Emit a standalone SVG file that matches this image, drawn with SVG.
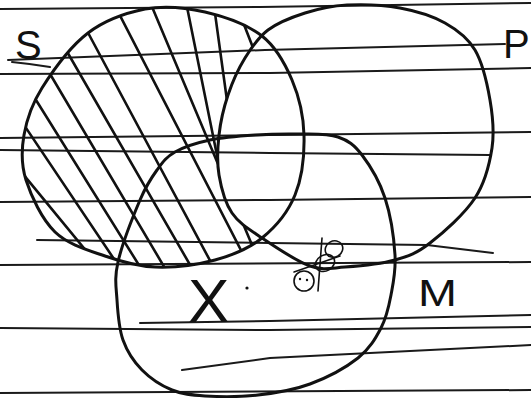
<svg xmlns="http://www.w3.org/2000/svg" xmlns:xlink="http://www.w3.org/1999/xlink" width="531" height="398" viewBox="0 0 531 398">
<style>
.rule{fill:none;stroke:#1a1a1a;stroke-width:2;stroke-linecap:round;stroke-linejoin:round}
.set{fill:none;stroke:#111;stroke-width:3;stroke-linejoin:round}
.hatch{fill:none;stroke:#111;stroke-width:2.6;stroke-linecap:round}
.lbl{font-family:"Liberation Sans","DejaVu Sans",sans-serif;fill:#111}
.scr{fill:none;stroke:#111;stroke-width:1.6;stroke-linecap:round}
</style>
<defs>
<path id="pS" d="M145,9 C164.5,5.5 185.5,7.5 205,12 C224.5,16.5 247.5,24.7 262,36 C276.5,47.3 285,63.5 292,80 C299,96.5 303.5,115.8 304,135 C304.5,154.2 302,177.8 295,195 C288,212.2 275.3,227.2 262,238 C248.7,248.8 232.8,255.2 215,260 C197.2,264.8 173.3,267.7 155,267 C136.7,266.3 121.7,261.8 105,256 C88.3,250.2 68.2,244.7 55,232 C41.8,219.3 31.2,196.2 26,180 C20.8,163.8 21.3,150.3 24,135 C26.7,119.7 31.3,105 42,88 C52.7,71 70.8,46.2 88,33 C105.2,19.8 127.8,12.5 145,9 Z"/>
<path id="pP" d="M347,5 C362.8,4.2 383.7,5 400,8 C416.3,11 432.5,16 445,23 C457.5,30 467.5,37.2 475,50 C482.5,62.8 487.2,83.7 490,100 C492.8,116.3 494.5,131.7 492,148 C489.5,164.3 485.3,182.2 475,198 C464.7,213.8 443.3,232.7 430,243 C416.7,253.3 409.2,256 395,260 C380.8,264 359.2,266 345,267 C330.8,268 323.8,270.8 310,266 C296.2,261.2 275,246.8 262,238 C249,229.2 239.2,223.5 232,213 C224.8,202.5 221.2,188 219,175 C216.8,162 217.5,148.3 219,135 C220.5,121.7 223.7,107.8 228,95 C232.3,82.2 238.3,68.8 245,58 C251.7,47.2 258,37.5 268,30 C278,22.5 291.8,17.2 305,13 C318.2,8.8 331.2,5.8 347,5 Z"/>
<path id="pM" d="M300,134 C313.8,134.3 327.7,133.5 338,137 C348.3,140.5 354.2,144.8 362,155 C369.8,165.2 379.5,181.3 385,198 C390.5,214.7 394,238.8 395,255 C396,271.2 393.3,282.8 391,295 C388.7,307.2 386.5,317.5 381,328 C375.5,338.5 369.8,348.7 358,358 C346.2,367.3 326.7,377.8 310,384 C293.3,390.2 275.5,393 258,395 C240.5,397 219.3,396.8 205,396 C190.7,395.2 182.5,394.3 172,390 C161.5,385.7 150.2,378.3 142,370 C133.8,361.7 127.2,351.7 123,340 C118.8,328.3 117.8,313 117,300 C116.2,287 114.2,278.7 118,262 C121.8,245.3 133.5,215.3 140,200 C146.5,184.7 151.2,178 157,170 C162.8,162 166.2,157 175,152 C183.8,147 196.7,142.8 210,140 C223.3,137.2 240,136 255,135 C270,134 286.2,133.7 300,134 Z"/>
<clipPath id="clipS"><use href="#pS" xlink:href="#pS"/></clipPath>
<mask id="notP" maskUnits="userSpaceOnUse" x="0" y="0" width="531" height="398">
<rect x="0" y="0" width="531" height="398" fill="#fff"/>
<use href="#pP" xlink:href="#pP" fill="#000"/>
</mask>
</defs>
<rect x="0" y="0" width="531" height="398" fill="#fff"/>
<g id="paper-lines">
<polyline class="rule" points="0,9 260,7 531,3"/>
<polyline class="rule" points="8,60 265,50 505,44"/>
<path class="rule" stroke-width="1.4" d="M12,62 Q32,64 50,67"/>
<polyline class="rule" points="0,74 270,73 531,68"/>
<polyline class="rule" points="0,138 270,135 531,132"/>
<polyline class="rule" points="0,150 270,153 490,155"/>
<polyline class="rule" points="0,202 270,200 531,197"/>
<polyline class="rule" points="37,240 270,243 427,245 493,253"/>
<polyline class="rule" points="0,265 531,262"/>
<polyline class="rule" points="140,323 270,321 531,315"/>
<polyline class="rule" points="0,328 270,330 531,327"/>
<polyline class="rule" points="182,370 270,358 531,345"/>
<polyline class="rule" points="0,393 531,390"/>
</g>
<g id="hatching" clip-path="url(#clipS)" mask="url(#notP)">
<line class="hatch" x1="18" y1="168" x2="92" y2="258"/>
<line class="hatch" x1="18" y1="116" x2="120" y2="268"/>
<line class="hatch" x1="26" y1="84" x2="142" y2="270"/>
<line class="hatch" x1="40" y1="57" x2="166" y2="270"/>
<line class="hatch" x1="58" y1="36" x2="193" y2="270"/>
<line class="hatch" x1="78" y1="14" x2="214" y2="268"/>
<line class="hatch" x1="113" y1="2" x2="245" y2="258"/>
<line class="hatch" x1="150" y1="2" x2="252" y2="245"/>
<line class="hatch" x1="186" y1="2" x2="224" y2="190"/>
<line class="hatch" x1="214" y1="6" x2="229" y2="115"/>
<line class="hatch" x1="243" y1="22" x2="257" y2="58"/>
</g>
<g id="set-S"><use class="set" href="#pS" xlink:href="#pS"/>
<text class="lbl" x="15" y="59" font-size="40">S</text></g>
<g id="set-P"><use class="set" href="#pP" xlink:href="#pP"/>
<text class="lbl" x="503" y="58" font-size="40">P</text></g>
<g id="set-M"><use class="set" href="#pM" xlink:href="#pM"/>
<text class="lbl" x="418" y="306" font-size="36" textLength="39" lengthAdjust="spacingAndGlyphs">M</text></g>
<g id="region-X"><text class="lbl" x="188" y="322" font-size="62">X</text>
<circle cx="247" cy="288" r="1.6" fill="#111"/></g>
<g id="scribble">
<ellipse class="scr" cx="304" cy="281" rx="10" ry="10"/>
<circle cx="300" cy="279" r="1.2" fill="#111"/>
<circle cx="307" cy="280" r="1.2" fill="#111"/>
<ellipse class="scr" cx="334" cy="249" rx="9" ry="8" transform="rotate(-30 334 249)"/>
<ellipse class="scr" cx="325" cy="263" rx="10" ry="8" transform="rotate(-30 325 263)"/>
<line class="scr" stroke-width="2.6" x1="322" y1="238" x2="318" y2="291"/>
<line class="scr" x1="294" y1="272" x2="340" y2="256"/>
</g>
<g id="connectors"/>
</svg>
